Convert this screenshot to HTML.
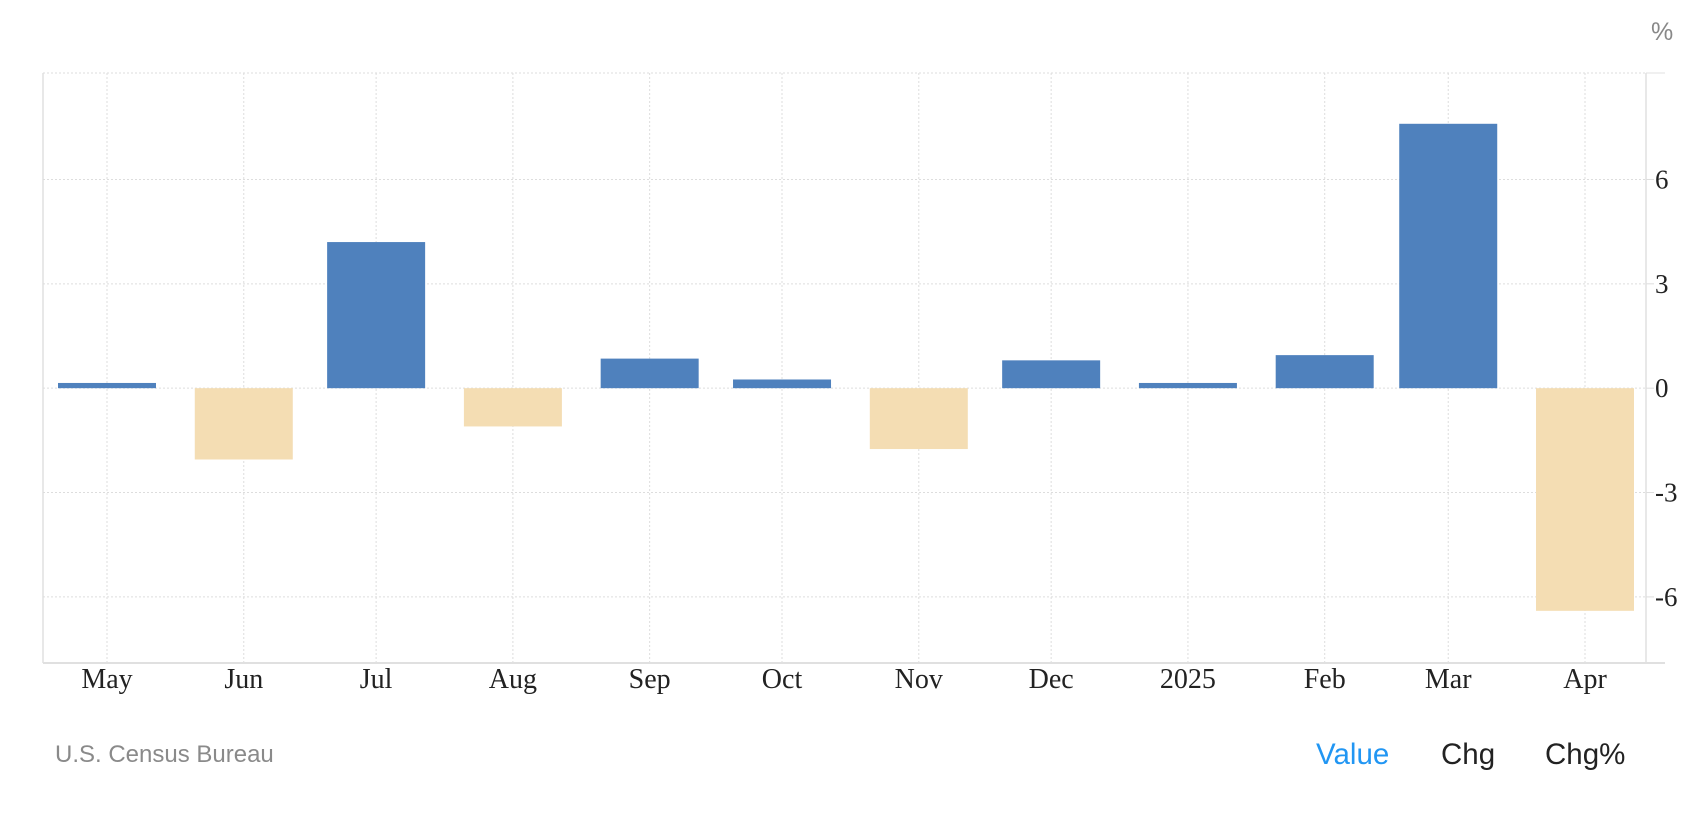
<!DOCTYPE html>
<html><head><meta charset="utf-8"><style>
html,body{margin:0;padding:0;background:#fff;}
body{width:1702px;height:816px;overflow:hidden;position:relative;font-family:"Liberation Sans",sans-serif;}
.lbl{position:absolute;font-size:29.5px;line-height:1;}
</style></head><body>
<svg id="chart" width="1702" height="816" style="position:absolute;left:0;top:0"></svg>
<div class="lbl" style="left:55px;top:743px;font-size:24px;color:#8a8a8a;">U.S. Census Bureau</div>
<div class="lbl" style="left:1316px;top:740px;color:#2196f3;">Value</div>
<div class="lbl" style="left:1441px;top:740px;color:#222;">Chg</div>
<div class="lbl" style="left:1545px;top:740px;color:#222;">Chg%</div>
<script>
const categories = ["May","Jun","Jul","Aug","Sep","Oct","Nov","Dec","2025","Feb","Mar","Apr"];
const values = [0.15,-2.05,4.2,-1.1,0.85,0.25,-1.75,0.8,0.15,0.95,7.6,-6.4];
const dayOffsets = [0,31,61,92,123,153,184,214,245,276,304,335];
const yTicks = [-6,-3,0,3,6];
const yTickLabels = ["-6","-3","0","3","6"];

const svg = document.getElementById('chart');
const NS = 'http://www.w3.org/2000/svg';
const pLeft=43, pRight=1646, pTop=73, pBottom=663;
const yMin=-7.9, yMax=9.06;
function yScale(v){return pTop+(yMax-v)/(yMax-yMin)*(pBottom-pTop);}
function xScale(d){return 107+d*(1585-107)/335;}
function el(t,a){const e=document.createElementNS(NS,t);for(const k in a)e.setAttribute(k,a[k]);svg.appendChild(e);return e;}

let e;
e=el('line',{x1:pLeft,y1:pTop,x2:pRight,y2:pTop,stroke:'#ddd','stroke-dasharray':'2,2'});


e=el('line',{x1:pLeft,y1:pTop,x2:pLeft,y2:pBottom,stroke:'#e0e0e0','stroke-width':1.5});


yTicks.forEach((t,i)=>{
  const g=el('line',{x1:pLeft,y1:yScale(t),x2:pRight,y2:yScale(t),stroke:'#ddd','stroke-dasharray':'2,2'});
  
  
  const tk=el('line',{x1:pRight,y1:yScale(t),x2:pRight+8,y2:yScale(t),stroke:'#ddd'});
  
  
  const tx=el('text',{x:pRight+9,y:yScale(t)+9,'font-family':'Liberation Serif, serif','font-size':27,fill:'#222'});
  tx.textContent=yTickLabels[i];
  
  
});
categories.forEach((c,i)=>{
  const cx=xScale(dayOffsets[i]);
  const g=el('line',{x1:cx,y1:pTop,x2:cx,y2:pBottom,stroke:'#ddd','stroke-dasharray':'2,2'});
  
  
});
categories.forEach((c,i)=>{
  const cx=xScale(dayOffsets[i]);const v=values[i];
  const r=el('rect',{x:cx-49,y:Math.min(yScale(v),yScale(0)),width:98,height:Math.abs(yScale(v)-yScale(0)),fill:v>=0?'#4f81bd':'#f4ddb3'});
  
  
  const tx=el('text',{x:cx,y:688,'text-anchor':'middle','font-family':'Liberation Serif, serif','font-size':28,fill:'#222'});
  tx.textContent=c;
  
  
});
e=el('line',{x1:pRight,y1:pTop,x2:pRight,y2:pBottom,stroke:'#e0e0e0','stroke-width':1.5});


e=el('line',{x1:pRight,y1:pTop,x2:pRight+19,y2:pTop,stroke:'#e0e0e0'});


e=el('line',{x1:pLeft,y1:pBottom,x2:pRight+19,y2:pBottom,stroke:'#e0e0e0','stroke-width':2});


e=el('text',{x:1651,y:40,'font-family':'Liberation Sans, sans-serif','font-size':25,fill:'#888'});
e.textContent='%';


</script>
</body></html>
